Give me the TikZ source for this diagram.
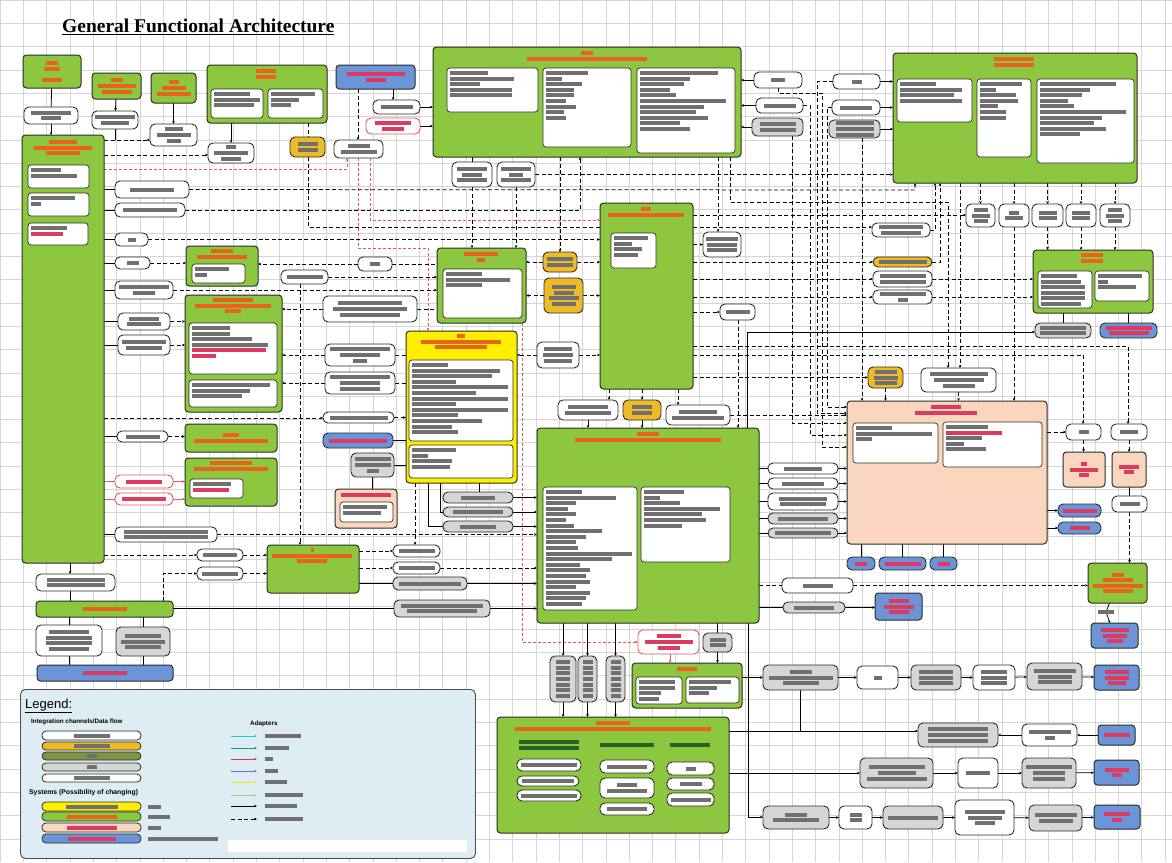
\documentclass[tikz,border=0pt]{standalone}
\usepackage{fontspec}
\setmainfont{Liberation Sans}
\newfontfamily\tnr{Liberation Serif}
\usetikzlibrary{arrows.meta}
\definecolor{gr}{RGB}{141,198,63}
\definecolor{bc}{RGB}{40,48,36}
\definecolor{yl}{RGB}{255,238,0}
\definecolor{pc}{RGB}{250,214,190}
\definecolor{bl}{RGB}{108,148,216}
\definecolor{og}{RGB}{238,186,40}
\definecolor{gp}{RGB}{214,214,214}
\definecolor{lgb}{RGB}{222,237,243}
\definecolor{gridc}{RGB}{214,214,214}
\definecolor{hatch}{RGB}{112,112,112}
\definecolor{hor}{RGB}{232,100,28}
\definecolor{hrd}{RGB}{220,58,95}
\definecolor{hgn}{RGB}{38,98,40}
\definecolor{rln}{RGB}{226,88,88}
\definecolor{olv}{RGB}{126,148,70}
\newcommand\xl[1]{\textcolor{hatch}{\rule{#1pt}{4pt}}}
\newcommand\xo[1]{\textcolor{hor}{\rule{#1pt}{4pt}}}
\newcommand\xr[1]{\textcolor{hrd}{\rule{#1pt}{4pt}}}
\newcommand\xg[1]{\textcolor{hgn}{\rule{#1pt}{4pt}}}
\newcommand\Bx[7]{\node[#2,anchor=north west,minimum width={#5-#3},minimum height={#6-#4}] (#1) at (#3,#4) {#7};}
\newcommand\Wb[6]{\node[inb,anchor=north west,minimum width={#4-#2},minimum height={#5-#3}] (#1) at (#2,#3) {};
  \node[tx,anchor=north west,align=left] (#1t) at ({#2+3},{#3+3}) {#6};}
\newcommand\Hd[4]{\node[tx,anchor=north] (#1) at (#2,#3) {#4};}
\pgfdeclarelayer{gridl}\pgfdeclarelayer{bgl}\pgfsetlayers{gridl,bgl,main}
\begin{document}
\begin{tikzpicture}[x=1pt,y=-1pt,
  tx/.style={inner sep=0,outer sep=0,align=center,font=\fontsize{4}{5.6}\selectfont},
  nb/.style={tx},
  sys/.style={nb,draw=bc,line width=1pt,rounded corners=3.5pt,fill=gr},
  sysY/.style={sys,fill=yl}, sysP/.style={sys,fill=pc}, sysB/.style={sys,fill=bl},
  inb/.style={nb,draw=bc,line width=0.7pt,rounded corners=3pt,fill=white},
  pw/.style={nb,draw=bc,line width=0.9pt,rounded corners=5pt,fill=white},
  pg/.style={pw,fill=gp}, po/.style={pw,fill=og}, pbl/.style={pw,fill=bl}, prd/.style={pw,draw=rln},
  pk/.style={pw,fill=pc},
  lp/.style={pw,rounded corners=4pt,line width=0.8pt},
  dl/.style={draw=black,line width=0.75pt,dash pattern=on 4pt off 2.5pt},
  sl/.style={draw=black,line width=0.75pt},
  rl/.style={draw=rln,line width=0.55pt,dash pattern=on 3pt off 2pt},
  rs/.style={draw=rln,line width=0.7pt},
  ar/.style={-{Stealth[length=3pt,width=2.6pt]}}]
\useasboundingbox (0,0) rectangle (1172,862);
\begin{pgfonlayer}{gridl}
\fill[white] (0,0) rectangle (1172,862);
\foreach \g in {0,23.3,...,1172} \draw[gridc,line width=0.5pt] (\g,0) -- (\g,862);
\foreach \g in {0,23.3,...,862} \draw[gridc,line width=0.5pt] (0,\g) -- (1172,\g);
\end{pgfonlayer}
% title
\node[font=\tnr\bfseries\fontsize{19.5}{22}\selectfont,anchor=west,inner sep=0] (title) at (62,27) {\underline{General Functional Architecture}};
% ---------- top left ----------
\Bx{A1}{sys}{23}{55}{81}{88}{\xo{12}\\\xo{16}\\[5pt]\xo{20}}
\Bx{pA1}{pw}{24}{107}{78}{124}{\xl{40}\\\xl{20}}
\Bx{L}{sys}{22}{135}{104}{563}{}
\Hd{Lh}{63}{140}{\xo{28}\\\xo{58}\\\xo{34}}
\Wb{La}{28}{165}{89}{188}{\xl{30}\\\xl{46}}
\Wb{Lb}{28}{193}{89}{216}{\xl{44}\\\xl{10}}
\Wb{Lc}{28}{223}{88}{245}{\xl{36}\\\xr{32}}
\Bx{A2}{sys}{92}{73}{141}{99}{\xo{12}\\\xo{38}\\\xo{30}}
\Bx{pA2}{pw}{92}{111}{138}{129}{\xl{40}\\\xl{28}}
\Bx{A3}{sys}{151}{73}{196}{103}{\xo{10}\\\xo{24}\\\xo{34}}
\Bx{pA3}{pw}{150}{124}{197}{146}{\xl{18}\\\xl{34}\\\xl{14}}
\Bx{A4}{sys}{207}{65}{327}{123}{}
\Hd{A4h}{266}{69}{\xo{20}\\\xo{20}}
\Wb{A4a}{211}{89}{263}{118}{\xl{36}\\\xl{46}\\\xl{40}}
\Wb{A4b}{268}{89}{323}{118}{\xl{44}\\\xl{28}\\\xl{20}}
\Bx{pA4}{pw}{208}{143}{254}{163}{\xl{10}\\\xl{34}\\\xl{20}}
\Bx{B1}{sysB}{336}{65}{415}{89}{\xr{58}\\\xr{20}}
\Bx{pB1a}{pw}{373}{100}{420}{114}{\xl{32}}
\Bx{pB1b}{prd}{366}{118}{420}{134}{\xr{36}\\\xr{22}}
\Bx{oA}{po}{290}{137}{325}{157}{\xl{20}\\\xl{20}}
\Bx{pB1c}{pw}{334}{140}{383}{158}{\xl{22}\\\xl{36}}
% left column pills
\Bx{pL1}{pw}{115}{181}{189}{198}{\xl{44}}
\Bx{pL2}{pw}{115}{203}{185}{217}{\xl{54}}
\Bx{pL3}{pw}{115}{233}{148}{246}{\xl{8}}
\Bx{pL4}{pw}{115}{257}{150}{269}{\xl{12}}
\Bx{pL5}{pw}{115}{281}{173}{299}{\xl{50}\\\xl{22}}
\Bx{pL6}{pw}{118}{313}{170}{330}{\xl{30}\\\xl{34}}
\Bx{pL7}{pw}{118}{335}{170}{355}{\xl{44}\\\xl{36}}
\Bx{pL8}{pw}{117}{431}{168}{442}{\xl{34}}
\Bx{pL9}{prd}{115}{475}{173}{488}{\xr{36}}
\Bx{pL10}{prd}{115}{493}{173}{505}{\xr{44}}
\Bx{pL11}{pw}{115}{527}{217}{542}{\xl{84}\\\xl{84}}
\Bx{gb1}{sys}{186}{246}{258}{286}{}
\Hd{gb1h}{222}{249}{\xo{22}\\\xo{50}}
\Wb{gb1a}{192}{264}{245}{283}{\xl{34}\\\xl{12}}
\Bx{gb2}{sys}{185}{295}{282}{412}{}
\Hd{gb2h}{233}{298}{\xo{40}\\\xo{76}\\\xo{16}}
\Wb{gb2a}{189}{323}{277}{374}{\xl{38}\\\xl{38}\\\xl{60}\\\xl{76}\\\xr{74}\\\xr{24}}
\Wb{gb2b}{189}{380}{277}{407}{\xl{78}\\\xl{58}\\\xl{50}}
\Bx{gb3}{sys}{185}{424}{277}{452}{\xo{16}\\\xo{74}}
\Bx{gb4}{sys}{185}{458}{277}{506}{}
\Hd{gb4h}{231}{461}{\xo{42}\\\xo{74}}
\Wb{gb4a}{190}{479}{243}{498}{\xl{38}\\\xr{36}}
\Bx{gb5}{sys}{267}{545}{359}{593}{}
\Hd{gb5h}{312}{548}{\xo{3}\\\xo{80}\\\xo{30}}
\Bx{pG5l1}{pw}{197}{549}{243}{561}{\xl{34}}
\Bx{pG5l2}{pw}{197}{567}{243}{580}{\xl{36}}
\Bx{pLb}{pw}{36}{574}{115}{591}{\xl{58}\\\xl{58}}
\Bx{gbar}{sys}{36}{601}{173}{617}{\xo{44}}
\Bx{wb1}{pw}{36}{625}{102}{656}{\xl{40}\\\xl{46}\\\xl{46}\\\xl{40}}
\Bx{gb1b}{pg}{116}{627}{170}{656}{\xl{36}\\\xl{44}\\\xl{36}}
\Bx{bbar}{sysB}{37}{665}{173}{681}{\xr{44}}
% middle-left
\Bx{pX}{pw}{281}{270}{328}{284}{\xl{36}}
\Bx{pM2}{pw}{358}{257}{392}{271}{\xl{10}}
\Bx{pM2b}{pw}{323}{296}{417}{322}{\xl{64}\\\xl{74}\\\xl{60}}
\Bx{pY1}{pw}{325}{344}{395}{366}{\xl{60}\\\xl{40}\\\xl{14}}
\Bx{pY2}{pw}{325}{372}{395}{394}{\xl{60}\\\xl{40}\\\xl{40}}
\Bx{pY3}{pw}{323}{412}{394}{423}{\xl{58}}
\Bx{pY4}{pbl}{323}{433}{393}{448}{\xr{58}}
\Bx{gY}{pg}{351}{453}{394}{477}{\xl{36}\\\xl{36}\\\xl{12}}
\Bx{pkY}{sysP}{335}{489}{397}{528}{}
\Hd{pkYh}{366}{493}{\xr{50}}
\Wb{pkYa}{340}{502}{393}{522}{\xl{44}\\\xl{38}}
\Bx{Y}{sysY}{406}{331}{517}{483}{}
\Hd{Yh}{461}{334}{\xo{8}\\\xo{80}\\\xo{52}}
\Wb{Ya}{409}{360}{513}{441}{\xl{36}\\\xl{88}\\\xl{80}\\\xl{44}\\\xl{96}\\\xl{64}\\\xl{96}\\\xl{44}\\\xl{96}\\\xl{46}\\\xl{70}\\\xl{40}\\\xl{46}}
\Wb{Yb}{409}{445}{513}{478}{\xl{44}\\\xl{16}\\\xl{40}\\\xl{38}}
\Bx{pYb1}{pg}{443}{492}{513}{503}{\xl{34}}
\Bx{pYb2}{pg}{443}{507}{513}{517}{\xl{50}}
\Bx{pYb3}{pg}{443}{521}{513}{532}{\xl{36}}
\Bx{pG5a}{pw}{393}{545}{440}{557}{\xl{36}}
\Bx{pG5b}{pw}{393}{562}{440}{574}{\xl{36}}
\Bx{pG5c}{pg}{393}{577}{467}{590}{\xl{62}}
\Bx{pG5d}{pg}{394}{600}{490}{617}{\xl{82}\\\xl{70}}
% top centre
\Bx{C1}{sys}{433}{47}{741}{157}{}
\Hd{C1h}{587}{51}{\xo{12}\\\xo{120}}
\Wb{C1a}{447}{68}{538}{112}{\xl{38}\\\xl{64}\\\xl{30}\\\xl{62}\\\xl{62}}
\Wb{C1b}{543}{68}{631}{147}{\xl{42}\\\xl{16}\\\xl{36}\\\xl{28}\\\xl{28}\\\xl{20}\\\xl{30}\\\xl{18}\\\xl{20}}
\Wb{C1c}{637}{68}{735}{153}{\xl{78}\\\xl{50}\\\xl{44}\\\xl{30}\\\xl{36}\\\xl{86}\\\xl{64}\\\xl{56}\\\xl{68}\\\xl{40}\\\xl{50}}
\Bx{pC1r1}{pw}{754}{72}{802}{88}{\xl{14}}
\Bx{pC1r2}{pw}{756}{98}{803}{113}{\xl{32}}
\Bx{pC1r3}{pg}{752}{118}{803}{136}{\xl{36}\\\xl{36}}
\Bx{pC1b1}{pw}{452}{162}{492}{187}{\xl{30}\\\xl{20}\\\xl{30}}
\Bx{pC1b2}{pw}{497}{162}{535}{187}{\xl{30}\\\xl{14}\\\xl{30}}
% top right
\Bx{C2}{sys}{893}{53}{1137}{183}{}
\Hd{C2h}{1014}{57}{\xo{40}\\\xo{40}}
\Wb{C2a}{897}{79}{972}{122}{\xl{36}\\\xl{62}\\\xl{54}\\\xl{62}}
\Wb{C2b}{977}{79}{1031}{157}{\xl{42}\\\xl{16}\\\xl{36}\\\xl{38}\\\xl{18}\\\xl{26}\\\xl{26}}
\Wb{C2c}{1037}{79}{1134}{163}{\xl{76}\\\xl{50}\\\xl{42}\\\xl{28}\\\xl{34}\\\xl{86}\\\xl{62}\\\xl{54}\\\xl{66}\\\xl{40}}
\Bx{pC2l1}{pw}{833}{74}{880}{89}{\xl{10}}
\Bx{pC2l2}{pw}{832}{100}{880}{115}{\xl{32}}
\Bx{pC2l3}{pg}{829}{120}{880}{138}{\xl{38}\\\xl{38}\\\xl{38}}
\Bx{sb1}{pw}{966}{204}{995}{227}{\xl{14}\\\xl{18}\\\xl{14}}
\Bx{sb2}{pw}{999}{204}{1029}{227}{\xl{10}\\\xl{18}}
\Bx{sb3}{pw}{1032}{204}{1063}{227}{\xl{18}\\\xl{18}}
\Bx{sb4}{pw}{1066}{204}{1096}{227}{\xl{18}\\\xl{18}}
\Bx{sb5}{pw}{1100}{204}{1130}{227}{\xl{14}\\\xl{18}\\\xl{14}}
\Bx{R1}{sys}{1033}{250}{1153}{313}{}
\Hd{R1h}{1092}{253}{\xo{22}\\\xo{22}}
\Wb{R1a}{1038}{271}{1092}{308}{\xl{36}\\\xl{40}\\\xl{44}\\\xl{44}\\\xl{44}\\\xl{40}}
\Wb{R1b}{1095}{271}{1149}{301}{\xl{44}\\\xl{10}\\\xl{38}}
\Bx{pR1a}{pg}{1035}{323}{1091}{338}{\xl{46}\\\xl{46}}
\Bx{pR1b}{pbl}{1100}{323}{1157}{338}{\xr{46}\\\xr{40}}
\Bx{pR1l1}{pw}{872}{223}{930}{237}{\xl{44}\\\xl{40}}
\Bx{pR1l2}{po}{873}{257}{932}{267}{\xl{48}}
\Bx{pR1l3}{pw}{873}{271}{932}{287}{\xl{46}\\\xl{46}}
\Bx{pR1l4}{pw}{873}{290}{932}{304}{\xl{46}\\\xl{10}}
% middle
\Bx{M2}{sys}{437}{248}{526}{323}{}
\Hd{M2h}{481}{252}{\xo{34}\\\xo{8}}
\Wb{M2a}{443}{269}{522}{318}{\xl{36}\\\xl{64}\\\xl{36}}
\Bx{oM1a}{po}{543}{252}{577}{272}{\xl{26}\\\xl{26}}
\Bx{oM1b}{po}{544}{278}{583}{313}{\xl{24}\\\xl{20}\\\xl{30}\\\xl{24}}
\Bx{M1}{sys}{600}{203}{693}{389}{}
\Hd{M1h}{646}{207}{\xo{10}\\\xo{76}}
\Wb{M1a}{611}{233}{656}{268}{\xl{34}\\\xl{18}\\\xl{28}\\\xl{24}}
\Bx{pM1}{pw}{703}{232}{741}{257}{\xl{32}\\\xl{30}\\\xl{30}}
\Bx{pM1b}{pw}{720}{304}{755}{320}{\xl{24}}
\Bx{pM}{pw}{537}{342}{579}{368}{\xl{28}\\\xl{30}\\\xl{28}}
\Bx{pGt1}{pw}{558}{400}{618}{420}{\xl{40}\\\xl{46}}
\Bx{oGt}{po}{623}{400}{661}{420}{\xl{20}\\\xl{20}}
\Bx{pGt3}{pw}{666}{405}{730}{425}{\xl{38}\\\xl{52}}
\Bx{G}{sys}{537}{428}{759}{623}{}
\Hd{Gh}{648}{432}{\xo{22}\\\xo{146}}
\Wb{Ga}{543}{487}{637}{610}{\xl{36}\\\xl{70}\\\xl{30}\\\xl{22}\\\xl{30}\\\xl{20}\\\xl{28}\\\xl{56}\\\xl{40}\\\xl{30}\\\xl{32}\\\xl{86}\\\xl{66}\\\xl{34}\\\xl{44}\\\xl{40}\\\xl{44}\\\xl{30}\\\xl{44}\\\xl{40}\\\xl{36}}
\Wb{Gb}{641}{487}{730}{562}{\xl{40}\\\xl{16}\\\xl{36}\\\xl{76}\\\xl{58}\\\xl{62}\\\xl{38}}
% peach system
\Bx{oP}{po}{868}{367}{903}{388}{\xl{22}\\\xl{24}\\\xl{22}}
\Bx{pP}{pw}{921}{368}{996}{392}{\xl{58}\\\xl{50}\\\xl{32}}
\Bx{P}{sysP}{847}{401}{1047}{544}{}
\Hd{Ph}{946}{405}{\xr{30}\\\xr{62}}
\Wb{Pa}{853}{423}{938}{463}{\xl{36}\\\xl{76}\\\xl{16}}
\Wb{Pb}{943}{422}{1042}{467}{\xl{42}\\\xr{56}\\\xl{36}\\\xl{18}\\\xl{40}}
\Bx{pP1}{pw}{768}{463}{838}{474}{\xl{38}}
\Bx{pP2}{pw}{768}{478}{838}{489}{\xl{42}}
\Bx{pP3}{pw}{768}{493}{838}{510}{\xl{48}\\\xl{46}}
\Bx{pP4}{pg}{768}{513}{838}{524}{\xl{50}}
\Bx{pP5}{pg}{768}{528}{838}{538}{\xl{56}}
\Bx{bP1}{pbl}{847}{557}{875}{570}{\xr{12}}
\Bx{bP2}{pbl}{879}{557}{926}{570}{\xr{36}}
\Bx{bP3}{pbl}{930}{557}{957}{570}{\xr{12}}
\Bx{pPr1}{pw}{1066}{424}{1101}{440}{\xl{10}}
\Bx{pPr2}{pw}{1111}{424}{1147}{440}{\xl{18}}
\Bx{kP1}{sysP}{1063}{452}{1105}{487}{\xr{6}\\\xr{28}\\\xr{10}}
\Bx{kP2}{sysP}{1112}{452}{1146}{487}{\xr{20}\\\xr{10}}
\Bx{pPr3}{pw}{1112}{496}{1147}{512}{\xl{20}}
\Bx{bPr1}{pbl}{1058}{504}{1101}{517}{\xr{34}}
\Bx{bPr2}{pbl}{1058}{522}{1101}{534}{\xr{20}}
\Bx{gS}{sys}{1088}{563}{1147}{603}{\xo{12}\\\xo{30}\\\xo{50}\\\xo{30}}
\node[tx] (gSl) at (1106,612) {\xl{16}};
\Bx{bS}{sysB}{1091}{623}{1138}{648}{\xr{28}\\\xr{24}\\\xr{16}}
\Bx{pGr1}{pw}{782}{578}{853}{593}{\xl{30}}
\Bx{pGr2}{pg}{783}{602}{845}{613}{\xl{40}}
\Bx{bGr}{sysB}{875}{593}{922}{620}{\xr{20}\\\xr{30}\\\xr{20}}
% bottom centre
\Bx{rP}{prd}{638}{630}{699}{654}{\xr{24}\\\xr{48}\\\xr{22}}
\Bx{gP}{pg}{703}{633}{732}{652}{\xl{16}\\\xl{16}}
\Bx{v1}{pg}{550}{656}{576}{702}{\xl{14}\\\xl{14}\\\xl{14}\\\xl{14}\\\xl{14}\\\xl{14}\\\xl{14}}
\Bx{v2}{pg}{578}{656}{597}{702}{\xl{10}\\\xl{10}\\\xl{10}\\\xl{10}\\\xl{10}\\\xl{10}\\\xl{10}}
\Bx{v3}{pg}{606}{656}{625}{702}{\xl{10}\\\xl{10}\\\xl{10}\\\xl{10}\\\xl{10}\\\xl{10}\\\xl{10}}
\Bx{gB}{sys}{632}{663}{742}{708}{}
\Hd{gBh}{687}{667}{\xo{20}}
\Wb{gBa}{636}{677}{682}{704}{\xl{36}\\\xl{36}\\\xl{22}\\\xl{20}}
\Wb{gBb}{686}{677}{739}{703}{\xl{42}\\\xl{28}\\\xl{20}}
\Bx{D}{sys}{497}{717}{729}{833}{}
\Hd{Dh}{613}{721}{\xo{34}\\\xo{196}}
\Hd{Dc1}{549}{740}{\xg{60}\\\xg{60}}
\Hd{Dc2}{627}{743}{\xg{54}}
\Hd{Dc3}{690}{743}{\xg{40}}
\Bx{d1}{pw}{517}{759}{581}{771}{\xl{56}}
\Bx{d2}{pw}{517}{776}{579}{786}{\xl{52}}
\Bx{d3}{pw}{517}{790}{581}{801}{\xl{56}}
\Bx{d4}{pw}{600}{760}{654}{773}{\xl{40}}
\Bx{d5}{pw}{600}{778}{654}{798}{\xl{20}\\\xl{40}}
\Bx{d6}{pw}{600}{803}{654}{815}{\xl{40}}
\Bx{d7}{pw}{667}{762}{714}{775}{\xl{10}}
\Bx{d8}{pw}{667}{778}{714}{790}{\xl{22}}
\Bx{d9}{pw}{667}{793}{714}{806}{\xl{40}}
% bottom right rows
\Bx{r1a}{pg}{763}{665}{838}{690}{\xl{22}\\\xl{64}\\\xl{36}}
\Bx{r1b}{pw}{857}{666}{898}{689}{\xl{8}}
\Bx{r1c}{pg}{911}{665}{961}{690}{\xl{34}\\\xl{34}\\\xl{34}}
\Bx{r1d}{pw}{973}{665}{1015}{690}{\xl{26}\\\xl{26}\\\xl{26}}
\Bx{r1e}{pg}{1027}{663}{1082}{690}{\xl{42}\\\xl{34}\\\xl{34}}
\Bx{r1f}{sysB}{1094}{665}{1139}{690}{\xr{24}\\\xr{24}\\\xr{18}}
\Bx{r2a}{pg}{918}{723}{998}{747}{\xl{60}\\\xl{60}\\\xl{60}}
\Bx{r2b}{pw}{1022}{724}{1077}{746}{\xl{42}\\\xl{10}}
\Bx{r2c}{sysB}{1098}{725}{1135}{745}{\xr{26}}
\Bx{r3a}{pg}{860}{758}{933}{788}{\xl{56}\\\xl{38}\\\xl{60}}
\Bx{r3b}{pw}{958}{758}{998}{788}{\xl{24}}
\Bx{r3c}{pg}{1022}{758}{1076}{788}{\xl{46}\\\xl{32}\\\xl{32}}
\Bx{r3d}{sysB}{1094}{760}{1139}{785}{\xr{24}\\\xr{10}}
\Bx{r4a}{pg}{763}{806}{829}{829}{\xl{22}\\\xl{46}}
\Bx{r4b}{pw}{839}{806}{872}{829}{\xl{12}\\\xl{12}}
\Bx{r4c}{pg}{883}{806}{943}{829}{\xl{50}}
\Bx{r4d}{pw}{955}{800}{1014}{835}{\xl{40}\\\xl{34}\\\xl{20}}
\Bx{r4e}{pg}{1029}{805}{1082}{831}{\xl{42}\\\xl{34}}
\Bx{r4f}{sysB}{1094}{805}{1140}{829}{\xr{26}\\\xr{10}}
% ---------- connectors ----------
\begin{pgfonlayer}{bgl}
\draw[sl] (A1) -- (pA1);
\draw[sl,ar] (pA1.south) -- (pA1.south |- L.north);
\draw[sl,ar] (A2) -- (pA2);
\draw[sl] (pA2.south) -- (pA2.south |- 0,140);
\draw[sl,ar] (A3) -- (pA3);
\draw[dl,ar] (L.east |- 0,140) -- (pA3.west |- 0,140);
\draw[dl,ar] (L.east |- 0,155) -- (pA4.west |- 0,155);
\draw[sl,ar] (231,0 |- A4.south) -- (231,0 |- pA4.north);
\draw[dl] (308,0 |- A4.south) -- (308,0 |- oA.north);
\draw[dl,ar] (308,0 |- oA.south) -- (308,227) -- (pR1l1.west |- 0,227);
\draw[dl,ar] (358,0 |- B1.south) -- (358,0 |- pB1c.north);
\draw[sl,ar] (393,0 |- B1.south) -- (393,0 |- pB1a.north);
\draw[sl,ar] (pB1a) -- (C1.west |- pB1a);
\draw[sl,ar] (pB1b) -- (C1.west |- pB1b);
\draw[rl,ar] (L.east |- 0,169) -- (347,169) -- (347,0 |- pB1c.south);
\draw[rl,ar] (358,0 |- pB1c.south) -- (358,248) -- (428,248) -- (428,0 |- Y.north);
\draw[rl,ar] (370,0 |- pB1c.south) -- (370,220) -- (M1.west |- 0,220);
\draw[rl,ar] (522,0 |- M2.south) -- (522,642) -- (rP.west |- 0,642);
\draw[rs,ar] (670,0 |- rP.south) -- (670,0 |- gB.north);
\draw[rs] (L.east |- pL9) -- (pL9);
\draw[rs,ar] (pL9) -- (gb4.west |- pL9);
\draw[rs] (L.east |- pL10) -- (pL10);
\draw[rs,ar] (pL10) -- (gb4.west |- pL10);
\foreach \p in {pL1,pL2,pL3,pL4,pL5,pL6,pL7,pL8,pL11} \draw[sl] (L.east |- \p) -- (\p);
\draw[dl,ar] (pL1) -- (915,190) -- (915,0 |- C2.south);
\draw[dl,ar] (pL2) -- (580,210) -- (580,0 |- C1.south);
\draw[dl,ar] (pL3) -- (M1.west |- pL3);
\draw[dl,ar] (pL4) -- (gb1.west |- pL4);
\draw[dl,ar] (pM2) -- (gb1.east |- pM2);
\draw[dl] (pM2) -- (M2.west |- pM2);
\draw[dl,ar] (pL5.east |- 0,290) -- (M2.west |- 0,290);
\draw[dl,ar] (pX) -- (M2.west |- pX);
\draw[dl,ar] (300,0 |- pX.south) -- (300,0 |- gb5.north);
\draw[dl,ar] (pL6) -- (gb2.west |- pL6);
\draw[dl,ar] (pL7) -- (gb2.west |- pL7);
\draw[dl,ar] (pM2b) -- (gb2.east |- pM2b);
\draw[dl] (pM2b) -- (M2.west |- pM2b);
\draw[dl,ar] (pY1) -- (gb2.east |- pY1);
\draw[dl] (pY1) -- (Y.west |- pY1);
\draw[dl,ar] (pY2) -- (gb2.east |- pY2);
\draw[dl] (pY2) -- (Y.west |- pY2);
\draw[dl,ar] (L.east |- 0,418) -- (pY3.west |- 0,418);
\draw[dl,ar] (pY3) -- (Y.west |- pY3);
\draw[dl,ar] (pL8) -- (gb3.west |- pL8);
\draw[sl] (pY4) -- (Y.west |- pY4);
\draw[sl] (gY) -- (Y.west |- gY);
\draw[sl] (gY) -- (gY.south |- pkY.north);
\draw[dl,ar] (pL11) -- (G.west |- pL11);
\draw[dl,ar] (L.east |- 0,555) -- (pG5l1.west |- 0,555);
\draw[dl,ar] (pG5l1) -- (gb5.west |- pG5l1);
\draw[dl,ar] (163,0 |- gbar.north) -- (163,573.5) -- (pG5l2.west |- 0,573.5);
\draw[dl,ar] (pG5l2) -- (gb5.west |- pG5l2);
\draw[dl,ar] (gb5.east |- pG5a) -- (pG5a);
\draw[dl,ar] (415,0 |- Y.south) -- (415,0 |- pG5a.north);
\draw[dl,ar] (gb5.east |- pG5b) -- (pG5b);
\draw[dl,ar] (pG5b) -- (G.west |- pG5b);
\draw[sl] (gb5.east |- pG5c) -- (pG5c);
\draw[sl,ar] (pG5c) -- (G.west |- pG5c);
\draw[sl] (gbar.east |- 0,608.5) -- (pG5d.west |- 0,608.5);
\draw[sl,ar] (pG5d) -- (G.west |- pG5d);
\draw[sl] (479,0 |- Y.south) -- (479,0 |- pYb1.north);
\draw[sl,ar] (pYb1) -- (G.west |- pYb1);
\draw[sl] (440,0 |- Y.south) -- (440,512) -- (pYb2.west |- 0,512);
\draw[sl,ar] (pYb2) -- (G.west |- pYb2);
\draw[sl] (428,0 |- Y.south) -- (428,526.5) -- (pYb3.west |- 0,526.5);
\draw[sl,ar] (pYb3) -- (G.west |- pYb3);
\draw[sl,ar] (70,0 |- L.south) -- (70,0 |- pLb.north);
\draw[sl] (70,0 |- pLb.south) -- (70,0 |- gbar.north);
\draw[sl] (69,0 |- gbar.south) -- (69,0 |- wb1.north);
\draw[sl] (143,0 |- gbar.south) -- (143,0 |- gb1b.north);
\draw[sl] (69,0 |- wb1.south) -- (69,0 |- bbar.north);
\draw[sl] (143,0 |- gb1b.south) -- (143,0 |- bbar.north);
% C1
\draw[sl,ar] (pC1r1) -- (C1.east |- pC1r1);
\draw[sl,ar] (pC1r2) -- (C1.east |- pC1r2);
\draw[sl,ar] (pC1r3) -- (C1.east |- pC1r3);
\draw[sl] (472,0 |- C1.south) -- (472,0 |- pC1b1.north);
\draw[dl,ar] (472,0 |- pC1b1.south) -- (472,0 |- M2.north);
\draw[dl,ar] (516,0 |- pC1b2.south) -- (516,0 |- M2.north);
\draw[dl,ar] (pC1b2) -- (C2.west |- pC1b2);
\draw[dl,ar] (560,0 |- C1.south) -- (560,0 |- oM1a.north);
\draw[dl,ar] (718,0 |- C1.south) -- (718,0 |- pM1.north);
\draw[dl,ar] (730,0 |- C1.south) -- (730,202) -- (948,202) -- (948,0 |- pP.north);
\draw[dl,ar] (oM1a) -- (M2.east |- oM1a);
\draw[dl,ar] (oM1a) -- (M1.west |- oM1a);
\draw[dl,ar] (oM1b) -- (M2.east |- oM1b);
\draw[dl,ar] (oM1b) -- (M1.west |- oM1b);
\draw[dl,ar] (M1.east |- 0,215) -- (sb1.west |- 0,215);
\draw[dl,ar] (M1.east |- pM1) -- (pM1);
\draw[dl,ar] (M1.east |- pR1l2) -- (pR1l2);
\draw[dl,ar] (pR1l2) -- (940,262) -- (940,0 |- C2.south);
\draw[dl,ar] (M1.east |- pR1l3) -- (pR1l3);
\draw[dl,ar] (pR1l3) -- (R1.west |- pR1l3);
\draw[dl,ar] (M1.east |- pR1l4) -- (pR1l4);
\draw[dl,ar] (pR1l4) -- (R1.west |- pR1l4);
\draw[dl,ar] (pR1l1) -- (935,230) -- (935,0 |- C2.south);
\draw[dl,ar] (M1.east |- pM1b) -- (pM1b);
\draw[dl,ar] (738,0 |- pM1b.south) -- (738,0 |- G.north);
\draw[sl,ar] (747,0 |- G.north) -- (747,332) -- (pR1a.west |- 0,332);
\draw[dl,ar] (M1.east |- 0,346) -- (1128,346) -- (1128,0 |- pPr2.north);
\draw[dl,ar] (M1.east |- 0,355) -- (1083,355) -- (1083,0 |- pPr1.north);
\draw[dl,ar] (M1.east |- oP) -- (oP);
\draw[dl,ar] (pM) -- (M1.west |- pM);
\draw[dl,ar] (pM) -- (Y.east |- pM);
\draw[dl,ar] (609,0 |- M1.south) -- (609,0 |- pGt1.north);
\draw[sl,ar] (588,0 |- pGt1.south) -- (588,0 |- G.north);
\draw[dl,ar] (642,0 |- M1.south) -- (642,0 |- oGt.north);
\draw[sl,ar] (642,0 |- oGt.south) -- (642,0 |- G.north);
\draw[dl,ar] (678,0 |- M1.south) -- (678,0 |- pGt3.north);
\draw[dl,ar] (pGt3) -- (P.west |- pGt3);
% C2
\draw[sl,ar] (pC2l1) -- (C2.west |- pC2l1);
\draw[sl,ar] (pC2l2) -- (C2.west |- pC2l2);
\draw[sl,ar] (pC2l3) -- (C2.west |- pC2l3);
\draw[dl,ar] (778,0 |- pC1r1.south) -- (778,93) -- (822,93) -- (822,447) -- (P.west |- 0,447);
\draw[dl,ar] (pC1r2) -- (810,105.5) -- (810,435) -- (P.west |- 0,435);
\draw[dl,ar] (792,0 |- pC1r3.south) -- (792,423) -- (P.west |- 0,423);
\draw[dl,ar] (pC2l1) -- (817,81.5) -- (817,413) -- (P.west |- 0,413);
\draw[dl,ar] (pC2l2) -- (827,107.5) -- (827,407) -- (P.west |- 0,407);
\draw[dl,ar] (862,0 |- pC2l3.south) -- (862,0 |- P.north);
\draw[dl,ar] (960,0 |- C2.south) -- (960,0 |- pP.north);
\foreach \s in {sb1,sb2,sb3,sb4,sb5} \draw[dl,ar] (\s.north |- C2.south) -- (\s.north);
\draw[dl,ar] (sb2.south) -- (sb2.south |- P.north);
\draw[dl,ar] (sb3.south) -- (sb3.south |- R1.north);
\draw[dl,ar] (sb4.south) -- (sb4.south |- R1.north);
\draw[dl,ar] (sb5.south) -- (sb5.south |- R1.north);
\draw[dl,ar] (pP.south) -- (pP.south |- P.north);
\draw[dl,ar] (oP.south) -- (oP.south |- P.north);
\draw[sl] (pR1a.north |- R1.south) -- (pR1a.north);
\draw[sl] (pR1b.north |- R1.south) -- (pR1b.north);
% P
\foreach \p in {pP1,pP2,pP3,pP4,pP5} {\draw[sl] (G.east |- \p) -- (\p); \draw[sl,ar] (\p) -- (P.west |- \p);}
\foreach \p in {bP1,bP2,bP3} \draw[sl] (\p.north |- P.south) -- (\p.north);
\draw[dl,ar] (P.east |- pPr1) -- (pPr1);
\draw[dl,ar] (pPr1.south) -- (pPr1.south |- kP1.north);
\draw[dl,ar] (pPr2.south) -- (pPr2.south |- kP2.north);
\draw[sl] (kP2.south) -- (kP2.south |- pPr3.north);
\draw[dl,ar] (pPr3.south) -- (pPr3.south |- gS.north);
\draw[sl,ar] (P.east |- bPr1) -- (bPr1);
\draw[sl,ar] (P.east |- bPr2) -- (bPr2);
\draw[dl] (G.east |- pGr1) -- (pGr1);
\draw[dl,ar] (pGr1) -- (gS.west |- pGr1);
\draw[sl] (G.east |- pGr2) -- (pGr2);
\draw[sl,ar] (pGr2) -- (bGr.west |- pGr2);
\draw[sl] (gS) -- (gSl);
\draw[sl,ar] (gSl) -- (bS);
% bottom
\draw[sl,ar] (563,0 |- G.south) -- (563,0 |- v1.north);
\draw[sl,ar] (563,0 |- v1.south) -- (563,0 |- D.north);
\draw[sl,ar] (587.5,0 |- G.south) -- (587.5,0 |- v2.north);
\draw[sl,ar] (587.5,0 |- v2.south) -- (587.5,0 |- D.north);
\draw[sl,ar] (615.5,0 |- G.south) -- (615.5,0 |- v3.north);
\draw[sl,ar] (615.5,0 |- v3.south) -- (615.5,0 |- D.north);
\draw[sl] (717.5,0 |- G.south) -- (gP.north);
\draw[sl,ar] (gP.south) -- (717.5,0 |- gB.north);
\draw[sl,ar] (748,0 |- G.south) -- (748,817) -- (r4a.west |- 0,817);
\draw[sl,ar] (gB.east |- r1a) -- (r1a);
\draw[sl,ar] (D.east |- 0,731) -- (r2a.west |- 0,731);
\draw[sl] (800,0 |- r1a.south) -- (800,731);
\draw[sl,ar] (D.east |- 0,773) -- (r3a.west |- 0,773);
\draw[sl,ar] (r1a) -- (r1b); \draw[sl,ar] (r1b) -- (r1c); \draw[sl,ar] (r1c) -- (r1d);
\draw[sl,ar] (r1d) -- (r1e); \draw[sl,ar] (r1e) -- (r1f);
\draw[sl,ar] (r2b) -- (r2a); \draw[sl,ar] (r2c) -- (r2b);
\draw[sl,ar] (r3a) -- (r3b); \draw[sl,ar] (r3b) -- (r3c); \draw[sl,ar] (r3c) -- (r3d);
\draw[sl,ar] (r4a) -- (r4b); \draw[sl,ar] (r4b) -- (r4c); \draw[sl,ar] (r4c) -- (r4d);
\draw[sl,ar] (r4d) -- (r4e); \draw[sl,ar] (r4e) -- (r4f);
\end{pgfonlayer}
% ---------- legend ----------
\Bx{lgd}{draw=gray!60!black,line width=0.9pt,rounded corners=5pt,fill=lgb}{20}{689}{475}{858}{}
\node[anchor=west,inner sep=0,font=\fontsize{13}{14}\selectfont] (lgt) at (25,706) {\underline{Legend:}};
\node[anchor=west,inner sep=0,font=\bfseries\fontsize{6.3}{7}\selectfont] (lgi) at (31,722) {Integration channels/Data flow};
\node[anchor=west,inner sep=0,font=\bfseries\fontsize{6.3}{7}\selectfont] (lga) at (250,724) {Adapters};
\node[anchor=west,inner sep=0,font=\bfseries\fontsize{6.8}{7}\selectfont] (lgs) at (29,793) {Systems (Possibility of changing)};
\Bx{li1}{lp,fill=white!85!lgb}{42}{731}{141}{740}{\xl{36}}
\Bx{li2}{lp,fill=og}{42}{742}{141}{750}{\xl{36}}
\Bx{li3}{lp,fill=olv}{42}{752}{141}{760}{\xl{10}}
\Bx{li4}{lp,fill=gp}{42}{763}{141}{771}{\xl{10}}
\Bx{li5}{lp,fill=white}{42}{774}{141}{782}{\xl{36}}
\Bx{ls1}{lp,fill=yl}{42}{802}{141}{811}{\xl{52}}
\Bx{ls2}{lp,fill=gr}{42}{812}{141}{821}{\xo{50}}
\Bx{ls3}{lp,fill=pc}{42}{823}{141}{832}{\xr{50}}
\Bx{ls4}{lp,fill=bl}{42}{834}{141}{843}{\xr{48}}
\node[tx,anchor=west] (lsl1) at (148,806.5) {\xl{13}};
\node[tx,anchor=west] (lsl2) at (148,816.5) {\xl{22}};
\node[tx,anchor=west] (lsl3) at (148,827.5) {\xl{13}};
\node[tx,anchor=west] (lsl4) at (148,838.5) {\xl{70}};
\foreach \yy/\cc/\ww in {736/{rgb,255:red,40;green,200;blue,210}/36,748/{rgb,255:red,20;green,150;blue,120}/24,759/{rgb,255:red,200;green,60;blue,100}/8,771/{rgb,255:red,110;green,110;blue,220}/13,782/{rgb,255:red,235;green,225;blue,40}/22,795/{rgb,255:red,150;green,210;blue,150}/38,806/black/32}
{\draw[line width=0.9pt,color=\cc,-{Stealth[length=3pt,width=2.6pt]}] (231,\yy) -- (257,\yy);
 \node[tx,anchor=west] at (265,\yy) {\xl{\ww}};}
\draw[line width=0.9pt,dash pattern=on 4pt off 2.5pt,-{Stealth[length=3pt,width=2.6pt]}] (231,819) -- (257,819);
\node[tx,anchor=west] (lal8) at (265,819) {\xl{38}};
\Bx{wr}{draw=none,fill=white}{228}{840}{467}{852}{}
\end{tikzpicture}
\end{document}
